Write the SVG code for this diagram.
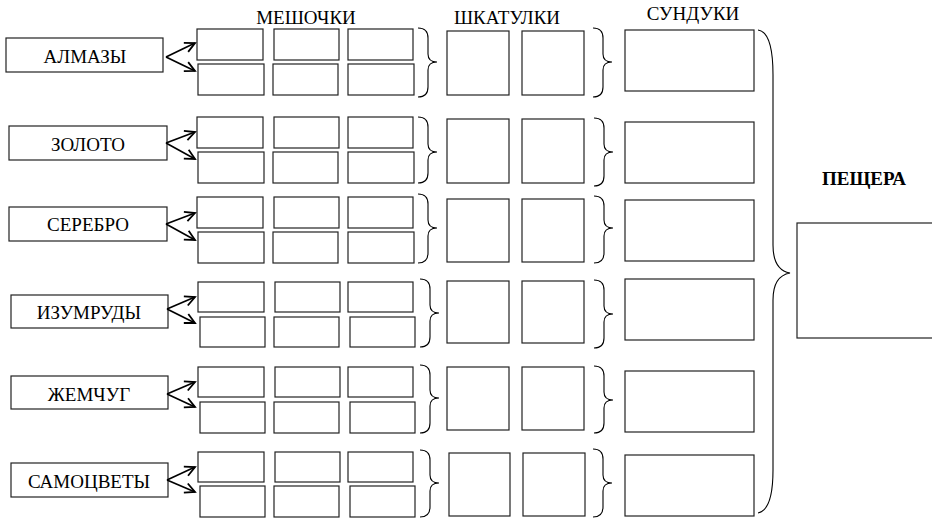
<svg xmlns="http://www.w3.org/2000/svg" width="932" height="518" viewBox="0 0 932 518">
<style>
.b{fill:#fff;stroke:#222;stroke-width:1.2}
.t{font-family:"Liberation Serif","Times New Roman",serif;font-size:19px;fill:#000;text-anchor:middle}
.h{font-family:"Liberation Serif","Times New Roman",serif;font-size:19px;fill:#000;text-anchor:middle}
.br{fill:none;stroke:#000;stroke-width:1.1}
.ar{fill:none;stroke:#000;stroke-width:1.7}
</style>
<defs>
<marker id="ah" markerUnits="userSpaceOnUse" markerWidth="14" markerHeight="14" refX="12" refY="7" orient="auto" viewBox="0 0 14 14">
<path d="M2,2 L12,7 L2,12" fill="none" stroke="#000" stroke-width="1.8"/>
</marker>
</defs>
<rect width="932" height="518" fill="#fff"/>
<g id="headers">
<text class="h" x="306" y="24">МЕШОЧКИ</text>
<text class="h" x="507" y="24">ШКАТУЛКИ</text>
<text class="h" x="693" y="20">СУНДУКИ</text>
<text class="h" x="864" y="185" font-weight="bold">ПЕЩЕРА</text>
</g>
<g id="labels">
<g id="l1"><rect class="b" x="6" y="38" width="157" height="34"/><text class="t" x="85" y="63">АЛМАЗЫ</text></g>
<g id="l2"><rect class="b" x="9" y="126" width="158" height="34"/><text class="t" x="88" y="151">ЗОЛОТО</text></g>
<g id="l3"><rect class="b" x="9" y="207" width="158" height="34"/><text class="t" x="88" y="231">СЕРЕБРО</text></g>
<g id="l4"><rect class="b" x="11" y="295" width="157" height="33"/><text class="t" x="89" y="319">ИЗУМРУДЫ</text></g>
<g id="l5"><rect class="b" x="11" y="376" width="157" height="33"/><text class="t" x="89" y="401">ЖЕМЧУГ</text></g>
<g id="l6"><rect class="b" x="11" y="463" width="157" height="34"/><text class="t" x="89" y="488">САМОЦВЕТЫ</text></g>
</g>
<g id="bags">
<g id="bags1"><rect class="b" x="197" y="29" width="66" height="31"/><rect class="b" x="274" y="29" width="65" height="31"/><rect class="b" x="348" y="29" width="65" height="31"/><rect class="b" x="198" y="64" width="66" height="31"/><rect class="b" x="273" y="64" width="65" height="31"/><rect class="b" x="348" y="64" width="66" height="31"/></g>
<g id="bags2"><rect class="b" x="197" y="117" width="66" height="31"/><rect class="b" x="274" y="117" width="65" height="31"/><rect class="b" x="348" y="117" width="65" height="31"/><rect class="b" x="198" y="152" width="66" height="31"/><rect class="b" x="273" y="152" width="65" height="31"/><rect class="b" x="348" y="152" width="66" height="31"/></g>
<g id="bags3"><rect class="b" x="197" y="197" width="66" height="31"/><rect class="b" x="274" y="197" width="65" height="31"/><rect class="b" x="348" y="197" width="65" height="31"/><rect class="b" x="198" y="232" width="66" height="31"/><rect class="b" x="273" y="232" width="65" height="31"/><rect class="b" x="348" y="232" width="66" height="31"/></g>
<g id="bags4"><rect class="b" x="198" y="282" width="66" height="30"/><rect class="b" x="275" y="282" width="65" height="30"/><rect class="b" x="348" y="282" width="65" height="30"/><rect class="b" x="200" y="317" width="65" height="30"/><rect class="b" x="274" y="317" width="65" height="30"/><rect class="b" x="350" y="317" width="65" height="30"/></g>
<g id="bags5"><rect class="b" x="198" y="367" width="66" height="30"/><rect class="b" x="275" y="367" width="65" height="30"/><rect class="b" x="348" y="367" width="65" height="30"/><rect class="b" x="200" y="402" width="65" height="31"/><rect class="b" x="274" y="402" width="65" height="31"/><rect class="b" x="350" y="402" width="65" height="31"/></g>
<g id="bags6"><rect class="b" x="198" y="452" width="66" height="30"/><rect class="b" x="275" y="452" width="65" height="30"/><rect class="b" x="348" y="452" width="65" height="30"/><rect class="b" x="200" y="486" width="65" height="31"/><rect class="b" x="274" y="486" width="65" height="31"/><rect class="b" x="350" y="486" width="65" height="31"/></g>
</g>
<g id="caskets">
<g id="c1"><rect class="b" x="447" y="31" width="62" height="64"/><rect class="b" x="522" y="31" width="62" height="64"/></g>
<g id="c2"><rect class="b" x="447" y="119" width="62" height="64"/><rect class="b" x="522" y="119" width="62" height="64"/></g>
<g id="c3"><rect class="b" x="447" y="199" width="62" height="63"/><rect class="b" x="522" y="199" width="62" height="63"/></g>
<g id="c4"><rect class="b" x="447" y="281" width="62" height="62"/><rect class="b" x="522" y="281" width="62" height="62"/></g>
<g id="c5"><rect class="b" x="447" y="367" width="62" height="63"/><rect class="b" x="522" y="367" width="62" height="63"/></g>
<g id="c6"><rect class="b" x="449" y="453" width="61" height="63"/><rect class="b" x="523" y="453" width="62" height="63"/></g>
</g>
<g id="chests">
<rect id="s1" class="b" x="625" y="30" width="129" height="61"/>
<rect id="s2" class="b" x="625" y="122" width="129" height="61"/>
<rect id="s3" class="b" x="625" y="200" width="129" height="61"/>
<rect id="s4" class="b" x="625" y="279" width="129" height="61"/>
<rect id="s5" class="b" x="625" y="371" width="129" height="61"/>
<rect id="s6" class="b" x="625" y="455" width="129" height="61"/>
</g>
<g id="cave"><rect class="b" x="797" y="223" width="200" height="115"/></g>
<g id="connectors">
<path class="ar" d="M166,57 L195,43" marker-end="url(#ah)"/><path class="ar" d="M166,57 L195,71" marker-end="url(#ah)"/>
<path class="ar" d="M166,143 L195,132" marker-end="url(#ah)"/><path class="ar" d="M166,143 L195,159" marker-end="url(#ah)"/>
<path class="ar" d="M166,224 L195,213" marker-end="url(#ah)"/><path class="ar" d="M166,224 L195,240" marker-end="url(#ah)"/>
<path class="ar" d="M167,309 L195,297" marker-end="url(#ah)"/><path class="ar" d="M167,309 L195,323" marker-end="url(#ah)"/>
<path class="ar" d="M167,394 L195,382" marker-end="url(#ah)"/><path class="ar" d="M167,394 L195,407" marker-end="url(#ah)"/>
<path class="ar" d="M167,480 L195,467" marker-end="url(#ah)"/><path class="ar" d="M167,480 L195,492" marker-end="url(#ah)"/>
<path class="br" d="M418,28 Q428,28 428,38 L428,54 Q428,62 437,62 Q428,62 428,70 L428,87 Q428,97 418,97"/>
<path class="br" d="M418,117 Q428,117 428,127 L428,144 Q428,152 437,152 Q428,152 428,160 L428,173 Q428,183 418,183"/>
<path class="br" d="M418,194 Q428,194 428,204 L428,220 Q428,228 437,228 Q428,228 428,236 L428,253 Q428,263 418,263"/>
<path class="br" d="M420,279 Q430,279 430,289 L430,305 Q430,313 439,313 Q430,313 430,321 L430,337 Q430,347 420,347"/>
<path class="br" d="M420,365 Q430,365 430,375 L430,390 Q430,398 439,398 Q430,398 430,406 L430,423 Q430,433 420,433"/>
<path class="br" d="M420,450 Q430,450 430,460 L430,475 Q430,483 439,483 Q430,483 430,491 L430,507 Q430,517 420,517"/>
<path class="br" d="M593,28 Q603,28 603,38 L603,54 Q603,62 612,62 Q603,62 603,70 L603,87 Q603,97 593,97"/>
<path class="br" d="M594,118 Q604,118 604,128 L604,144 Q604,152 613,152 Q604,152 604,160 L604,176 Q604,186 594,186"/>
<path class="br" d="M594,196 Q604,196 604,206 L604,220 Q604,228 613,228 Q604,228 604,236 L604,253 Q604,263 594,263"/>
<path class="br" d="M594,280 Q604,280 604,290 L604,306 Q604,314 613,314 Q604,314 604,322 L604,338 Q604,348 594,348"/>
<path class="br" d="M594,366 Q604,366 604,376 L604,392 Q604,400 613,400 Q604,400 604,408 L604,423 Q604,433 594,433"/>
<path class="br" d="M593,449 Q603,449 603,459 L603,475 Q603,483 612,483 Q603,483 603,491 L603,507 Q603,517 593,517"/>
<path class="br" d="M758,30 Q773,32 773,75 L773,245 Q773,270 790,273 Q773,276 773,300 L773,470 Q773,510 758,513"/>
</g>
</svg>
